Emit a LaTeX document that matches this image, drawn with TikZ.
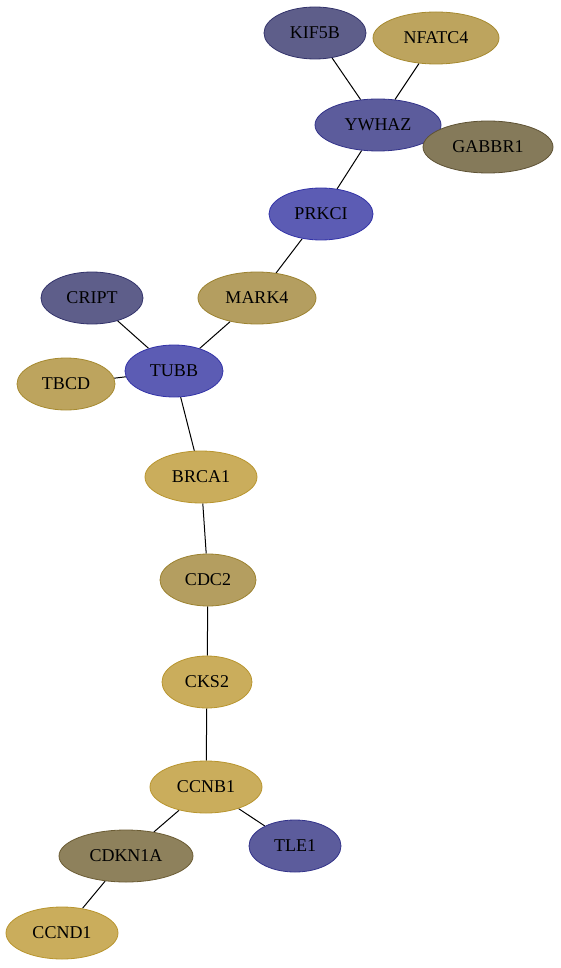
\documentclass[tikz,border=0pt]{standalone}
\usepackage{fontspec}
\setmainfont{Liberation Serif}
\usetikzlibrary{shapes.geometric,backgrounds}
\definecolor{bdark}{HTML}{5E5E8A}
\definecolor{bdarkB}{HTML}{33336B}
\definecolor{bmid}{HTML}{5C5C9C}
\definecolor{bmidB}{HTML}{33338A}
\definecolor{bbright}{HTML}{5C5CB4}
\definecolor{bbrightB}{HTML}{3333A8}
\definecolor{gold}{HTML}{BDA45E}
\definecolor{goldB}{HTML}{A68A30}
\definecolor{goldL}{HTML}{CAAD5C}
\definecolor{goldLB}{HTML}{B8952E}
\definecolor{goldD}{HTML}{B49E60}
\definecolor{goldDB}{HTML}{9C8230}
\definecolor{olive}{HTML}{857A5A}
\definecolor{oliveB}{HTML}{5E5234}
\definecolor{oliveL}{HTML}{8E815C}
\definecolor{oliveLB}{HTML}{6B5C34}
\tikzset{
  gene/.style={ellipse, inner sep=0pt, minimum height=52pt, font=\fontsize{18}{20}\selectfont, line width=0.8pt},
  gbdark/.style={gene, fill=bdark, draw=bdarkB},
  gbmid/.style={gene, fill=bmid, draw=bmidB},
  gbbright/.style={gene, fill=bbright, draw=bbrightB},
  ggold/.style={gene, fill=gold, draw=goldB},
  ggoldL/.style={gene, fill=goldL, draw=goldLB},
  ggoldD/.style={gene, fill=goldD, draw=goldDB},
  golive/.style={gene, fill=olive, draw=oliveB},
  goliveL/.style={gene, fill=oliveL, draw=oliveLB},
  link/.style={draw=black, line width=1pt}
}
\begin{document}
\begin{tikzpicture}[x=1pt,y=-1pt]
\useasboundingbox (0,0) rectangle (560,968);
\node[gbdark, minimum width=102pt] (KIF5B) at (315,33) {KIF5B};
\node[ggold, minimum width=126pt] (NFATC4) at (436,38) {NFATC4};
\node[gbmid, minimum width=126pt] (YWHAZ) at (378,125) {YWHAZ};
\node[golive, minimum width=130pt] (GABBR1) at (488,147) {GABBR1};
\node[gbbright, minimum width=104pt] (PRKCI) at (321,214) {PRKCI};
\node[ggoldD, minimum width=118pt] (MARK4) at (257,298) {MARK4};
\node[gbdark, minimum width=102pt] (CRIPT) at (92,298) {CRIPT};
\node[gbbright, minimum width=98pt] (TUBB) at (174,371) {TUBB};
\node[ggold, minimum width=98pt] (TBCD) at (66,384) {TBCD};
\node[ggoldL, minimum width=112pt] (BRCA1) at (201,477) {BRCA1};
\node[ggoldD, minimum width=96pt] (CDC2) at (208,580) {CDC2};
\node[ggoldL, minimum width=90pt] (CKS2) at (207,682) {CKS2};
\node[ggoldL, minimum width=112pt] (CCNB1) at (206,787) {CCNB1};
\node[goliveL, minimum width=134pt] (CDKN1A) at (126,856) {CDKN1A};
\node[gbmid, minimum width=92pt] (TLE1) at (295,846) {TLE1};
\node[ggoldL, minimum width=112pt] (CCND1) at (62,933) {CCND1};
\begin{pgfonlayer}{background}
\draw[link] (KIF5B) -- (YWHAZ);
\draw[link] (NFATC4) -- (YWHAZ);
\draw[link] (YWHAZ) -- (PRKCI);
\draw[link] (PRKCI) -- (MARK4);
\draw[link] (MARK4) -- (TUBB);
\draw[link] (CRIPT) -- (TUBB);
\draw[link] (TBCD) -- (TUBB);
\draw[link] (TUBB) -- (BRCA1);
\draw[link] (BRCA1) -- (CDC2);
\draw[link] (CDC2) -- (CKS2);
\draw[link] (CKS2) -- (CCNB1);
\draw[link] (CCNB1) -- (CDKN1A);
\draw[link] (CCNB1) -- (TLE1);
\draw[link] (CDKN1A) -- (CCND1);
\end{pgfonlayer}
\end{tikzpicture}
\end{document}
